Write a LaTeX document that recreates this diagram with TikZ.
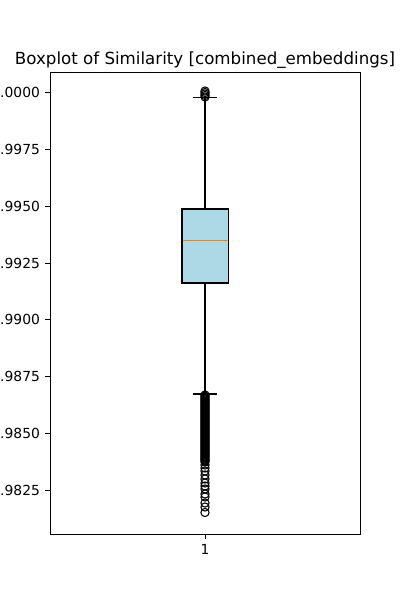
\documentclass[tikz,border=0pt]{standalone}
\usepackage{fontspec}
\setmainfont{DejaVu Sans}
\usepackage{tikz}

\definecolor{boxblue}{RGB}{173,216,230}
\definecolor{medorange}{RGB}{255,127,14}

\begin{document}
\begin{tikzpicture}[x=0.75pt,y=0.75pt,yscale=-1,xscale=1,
  ticklabel/.style={inner sep=0pt,font=\fontsize{10.4}{12}\selectfont},
  flier/.style={line width=0.8pt}]
%set diagram left start at 0, and has height of 600
\useasboundingbox (0,0) rectangle (400,600);

%Box [Q1..Q3]
\draw [fill=boxblue,line width=0.8pt] (182,209) rectangle (228.5,283) ;
%Median Line
\draw [color=medorange,line width=0.8pt] (182.5,240.2) -- (228,240.2) ;
%Whiskers
\draw [line width=0.8pt] (205,209) -- (205,97.6) ;
\draw [line width=0.8pt] (205,283) -- (205,394) ;
%Caps
\draw [line width=0.8pt] (193.4,97.6) -- (216.6,97.6) ;
\draw [line width=0.8pt] (193.4,394) -- (216.6,394) ;

%Outliers above
\foreach \y in {91,92.5,94,95.5,97}
  \draw [flier] (205,\y) circle (4.1) ;
%Outliers below
\foreach \y in {395,396,...,462,465,468,471,475,479,483,486,489,494,497,503,507,512.5}
  \draw [flier] (205,\y) circle (4.1) ;

%Axes Frame
\draw [line width=0.65pt] (50,72) rectangle (360,534) ;

%Y Ticks
\foreach \y/\v [count=\i] in {92.3/1.0000,149.2/0.9975,206.1/0.9950,263.0/0.9925,319.9/0.9900,376.8/0.9875,433.7/0.9850,490.6/0.9825}{
  \draw [line width=0.65pt] (45.1,\y) -- (50,\y) ;
  \node (ylab\i) [ticklabel,anchor=east] at (40.2,\y) {\v};
}
%X Tick
\draw [line width=0.65pt] (205,534) -- (205,538.9) ;
% Text Node
\node (xlab) [ticklabel,anchor=base] at (205,554.4) {1};
% Text Node
\node (title) [inner sep=0pt,anchor=base,font=\fontsize{12.5}{14}\selectfont] at (205,64) {Boxplot of Similarity [combined\_embeddings]};

\end{tikzpicture}
\end{document}
